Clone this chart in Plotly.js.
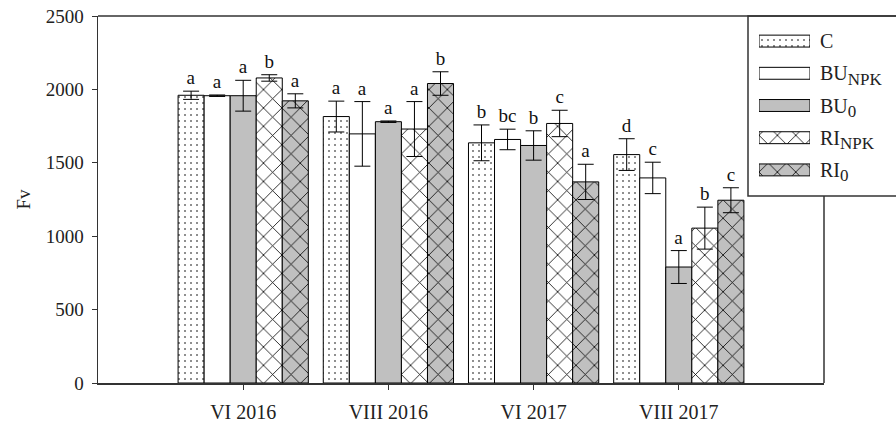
<!DOCTYPE html>
<html>
<head>
<meta charset="utf-8">
<script src="https://cdn.plot.ly/plotly-3.0.1.min.js"></script>
<style>html,body{margin:0;padding:0;background:#fff;}#chart{width:896px;height:425px;}</style>
</head>
<body>
<div id="chart"></div>
<script>
// ---- data ----
const categories = ['VI 2016', 'VIII 2016', 'VI 2017', 'VIII 2017'];
const seriesNames = ['C', 'BU<sub><span style="font-size:17px">NPK</span></sub>', 'BU<sub><span style="font-size:17px">0</span></sub>',
                     'RI<sub><span style="font-size:17px">NPK</span></sub>', 'RI<sub><span style="font-size:17px">0</span></sub>'];
const valC     = [1960, 1815, 1636, 1556];
const valBUNPK = [1957, 1697, 1659, 1397];
const valBU0   = [1957, 1780, 1618, 790];
const valRINPK = [2078, 1730, 1768, 1055];
const valRI0   = [1922, 2040, 1370, 1245];
const errC     = [28, 105, 122, 108];
const errBUNPK = [5, 220, 70, 107];
const errBU0   = [105, 5, 100, 112];
const errRINPK = [22, 187, 90, 143];
const errRI0   = [48, 80, 120, 85];
const letC     = ['a', 'a', 'b', 'd'];
const letBUNPK = ['a', 'a', 'bc', 'c'];
const letBU0   = ['a', 'a', 'b', 'a'];
const letRINPK = ['b', 'a', 'c', 'b'];
const letRI0   = ['a', 'b', 'a', 'c'];
const yTicks = [0, 500, 1000, 1500, 2000, 2500];

// ---- styles ----
const GRAY = '#c0c0c0';
const styles = [
  {bg: '#ffffff', fg: '#000000', shape: '.', size: 6, solidity: 0.06},
  {bg: '#ffffff', fg: '#000000', shape: '', size: 8, solidity: 0.1},
  {bg: GRAY, fg: '#000000', shape: '', size: 8, solidity: 0.1},
  {bg: '#ffffff', fg: '#000000', shape: 'x', size: 13, solidity: 0.12},
  {bg: GRAY, fg: '#000000', shape: 'x', size: 13, solidity: 0.12}
];
const values = [valC, valBUNPK, valBU0, valRINPK, valRI0];
const errs = [errC, errBUNPK, errBU0, errRINPK, errRI0];
const letters = [letC, letBUNPK, letBU0, letRINPK, letRI0];

const FONT = 'Liberation Serif, Times New Roman, serif';
const traces = [];
values.forEach((vals, i) => {
  const st = styles[i];
  traces.push({
    type: 'bar', x: categories, y: vals, name: seriesNames[i],
    offsetgroup: 'g' + i, showlegend: false, hoverinfo: 'skip',
    marker: {color: st.bg, line: {color: '#000', width: 1},
      pattern: {shape: st.shape, bgcolor: st.bg, fgcolor: st.fg, size: st.size, solidity: st.solidity, fillmode: 'replace'}},
    error_y: {type: 'data', array: errs[i], visible: true, color: '#000', thickness: 1, width: 8}
  });
});
// letter labels: invisible bars reaching the top of each error bar
values.forEach((vals, i) => {
  traces.push({
    type: 'bar', x: categories, y: vals.map((v, k) => v + errs[i][k]),
    offsetgroup: 'g' + i, showlegend: false, hoverinfo: 'skip',
    marker: {color: 'rgba(0,0,0,0)', line: {width: 0}},
    text: letters[i], textposition: 'outside', cliponaxis: false,
    textfont: {family: FONT, size: 19, color: '#111'}
  });
});
// custom legend swatches on a secondary axis
styles.forEach((st, i) => {
  traces.push({
    type: 'bar', orientation: 'h', x: [1], y: [seriesNames[i]], width: 0.37,
    xaxis: 'x2', yaxis: 'y2', showlegend: false, hoverinfo: 'skip',
    marker: {color: st.bg, line: {color: '#000', width: 1},
      pattern: {shape: st.shape, bgcolor: st.bg, fgcolor: st.fg, size: st.size, solidity: st.solidity, fillmode: 'replace'}}
  });
});

const L = 98, R = 824, T = 16, B = 383;
const PW = R - L, PH = B - T;
const px = x => (x - L) / PW;
const py = y => (B - y) / PH;

const layout = {
  width: 896, height: 425,
  margin: {l: L, r: 896 - R, t: T, b: 425 - B},
  paper_bgcolor: '#fff', plot_bgcolor: 'rgba(0,0,0,0)',
  barmode: 'group', bargap: 0.103, bargroupgap: 0,
  showlegend: false,
  font: {family: FONT, size: 19, color: '#222'},
  xaxis: {
    type: 'category', range: [-1, 4], showgrid: false, zeroline: false,
    showline: true, linecolor: '#333', linewidth: 1.5,
    ticks: 'outside', ticklen: 5, tickcolor: '#333', ticklabelstandoff: 5,
    tickfont: {family: FONT, size: 20, color: '#222'}
  },
  yaxis: {
    range: [0, 2500], tickvals: yTicks, showgrid: false, zeroline: false,
    showline: true, linecolor: '#333', linewidth: 1.5,
    ticks: 'outside', ticklen: 5, tickcolor: '#333', ticklabelstandoff: 4,
    tickfont: {family: FONT, size: 19, color: '#222'},
    title: {text: 'Fv', font: {family: FONT, size: 19, color: '#222'}, standoff: 10}
  },
  xaxis2: {domain: [px(759), px(810)], range: [0, 1], anchor: 'y2', visible: false, fixedrange: true},
  yaxis2: {
    domain: [py(186), py(25)], anchor: 'x2', type: 'category', autorange: 'reversed',
    side: 'right', showline: false, showgrid: false, zeroline: false, ticks: '',
    ticklabelstandoff: 9,
    tickfont: {family: FONT, size: 20, color: '#222'}
  },
  shapes: [
    {type: 'line', xref: 'paper', yref: 'paper', x0: 0, x1: 1.3, y0: 1, y1: 1, line: {color: '#333', width: 1.5}},
    {type: 'line', xref: 'paper', yref: 'paper', x0: 1, x1: 1, y0: 0, y1: py(196), line: {color: '#333', width: 1.5}},
    {type: 'rect', xref: 'paper', yref: 'paper', x0: px(748), x1: 1.4, y0: py(196), y1: 1, layer: 'below',
     fillcolor: '#fff', line: {color: '#333', width: 1.5}}
  ]
};

Plotly.newPlot('chart', traces, layout, {staticPlot: true, displayModeBar: false});
</script>
</body>
</html>
